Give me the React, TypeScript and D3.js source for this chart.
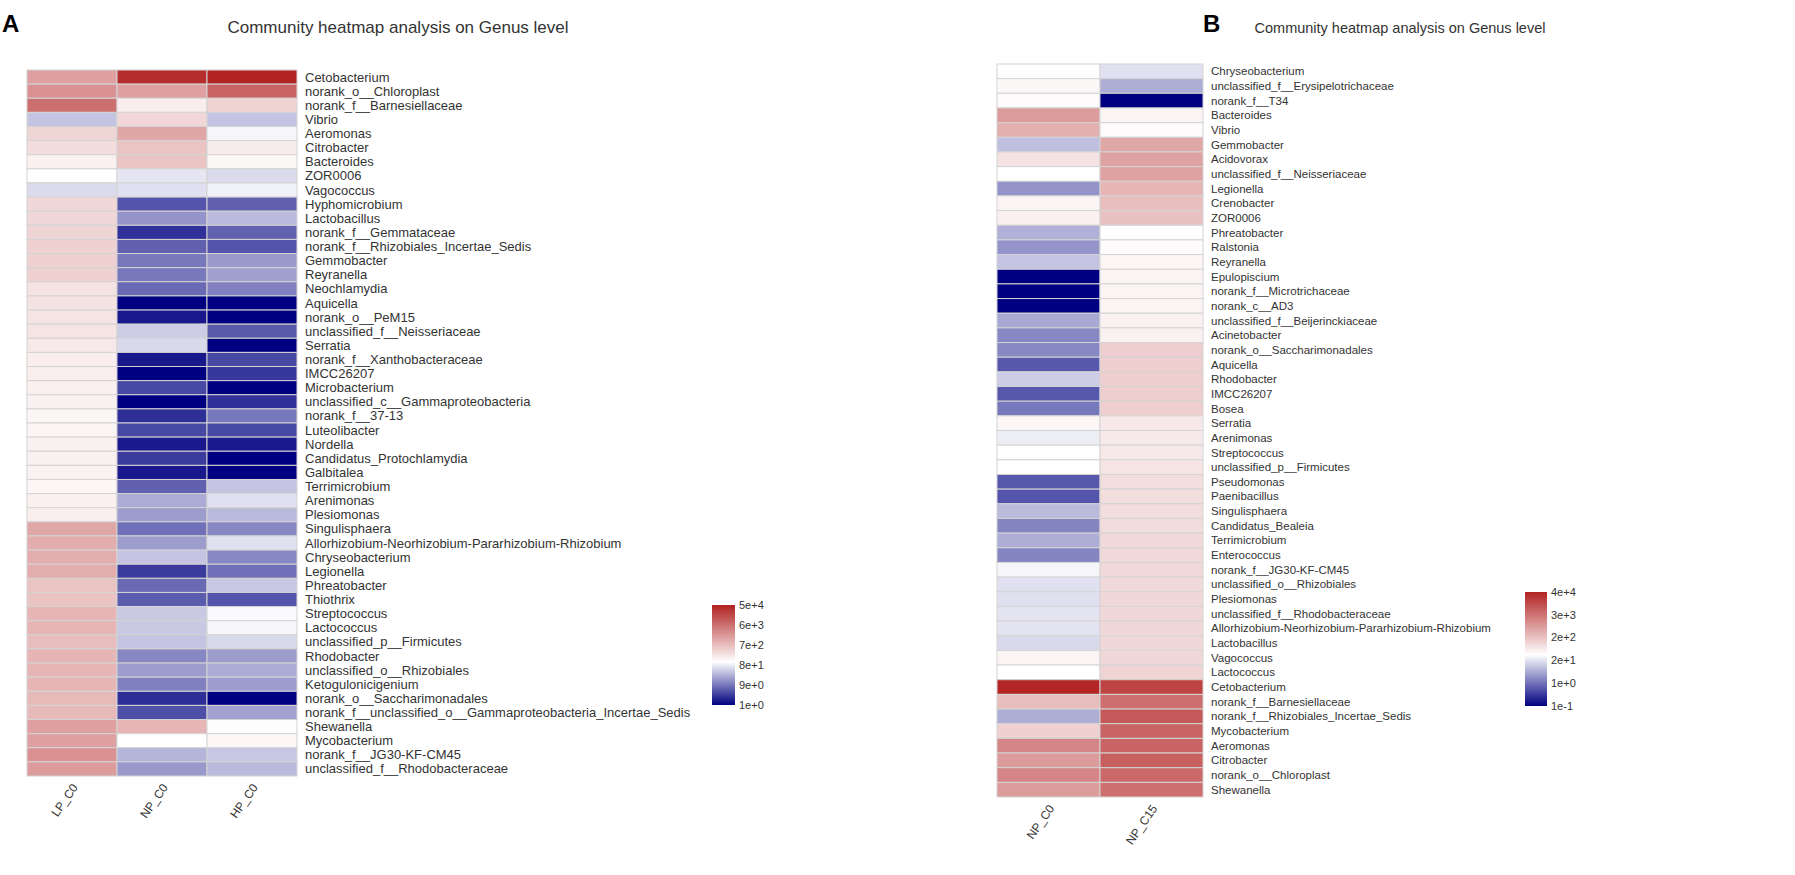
import React from 'react';
import * as d3 from 'd3';

// Panel A: genus names (top to bottom) and colour-scaled abundance per sample
const genusA = [
  'Cetobacterium', 'norank_o__Chloroplast', 'norank_f__Barnesiellaceae', 'Vibrio', 'Aeromonas',
  'Citrobacter', 'Bacteroides', 'ZOR0006', 'Vagococcus', 'Hyphomicrobium',
  'Lactobacillus', 'norank_f__Gemmataceae', 'norank_f__Rhizobiales_Incertae_Sedis', 'Gemmobacter', 'Reyranella',
  'Neochlamydia', 'Aquicella', 'norank_o__PeM15', 'unclassified_f__Neisseriaceae', 'Serratia',
  'norank_f__Xanthobacteraceae', 'IMCC26207', 'Microbacterium', 'unclassified_c__Gammaproteobacteria', 'norank_f__37-13',
  'Luteolibacter', 'Nordella', 'Candidatus_Protochlamydia', 'Galbitalea', 'Terrimicrobium',
  'Arenimonas', 'Plesiomonas', 'Singulisphaera', 'Allorhizobium-Neorhizobium-Pararhizobium-Rhizobium', 'Chryseobacterium',
  'Legionella', 'Phreatobacter', 'Thiothrix', 'Streptococcus', 'Lactococcus',
  'unclassified_p__Firmicutes', 'Rhodobacter', 'unclassified_o__Rhizobiales', 'Ketogulonicigenium', 'norank_o__Saccharimonadales',
  'norank_f__unclassified_o__Gammaproteobacteria_Incertae_Sedis', 'Shewanella', 'Mycobacterium', 'norank_f__JG30-KF-CM45', 'unclassified_f__Rhodobacteraceae',
];
const samplesA = ['LP_C0', 'NP_C0', 'HP_C0'];
// -1 = navy (low), 0 = white, 1 = firebrick (high)
const lpC0 = [
  0.43, 0.5, 0.65, -0.23, 0.19, 0.16, 0.07, 0, -0.14, 0.18,
  0.18, 0.19, 0.21, 0.21, 0.21, 0.13, 0.13, 0.12, 0.12, 0.1,
  0.08, 0.08, 0.07, 0.06, 0.04, 0.05, 0.06, 0.06, 0.06, 0.04,
  0.07, 0.08, 0.4, 0.37, 0.37, 0.37, 0.27, 0.27, 0.33, 0.33,
  0.3, 0.33, 0.33, 0.33, 0.31, 0.31, 0.43, 0.43, 0.5, 0.45,
];
const npC0A = [
  0.95, 0.43, 0.08, 0.18, 0.4, 0.27, 0.27, -0.1, -0.12, -0.67,
  -0.42, -0.81, -0.62, -0.53, -0.53, -0.59, -1, -0.9, -0.2, -0.15,
  -0.9, -1, -0.72, -1, -0.82, -0.72, -0.9, -0.77, -0.9, -0.62,
  -0.33, -0.39, -0.56, -0.39, -0.23, -0.77, -0.59, -0.64, -0.21, -0.21,
  -0.23, -0.47, -0.39, -0.5, -0.82, -0.69, 0.33, 0, -0.29, -0.4,
];
const hpC0 = [
  1, 0.7, 0.2, -0.23, -0.04, 0.09, 0.03, -0.14, -0.06, -0.62,
  -0.27, -0.62, -0.67, -0.4, -0.37, -0.5, -1, -1, -0.65, -1,
  -0.72, -0.78, -1, -0.81, -0.53, -0.72, -0.9, -1, -1, -0.23,
  -0.12, -0.27, -0.47, -0.12, -0.47, -0.56, -0.22, -0.67, -0.02, -0.03,
  -0.15, -0.39, -0.33, -0.39, -1, -0.37, 0.01, 0.04, -0.22, -0.27,
];
const legendTicksA = ['5e+4', '6e+3', '7e+2', '8e+1', '9e+0', '1e+0'];

// Panel B
const genusB = [
  'Chryseobacterium', 'unclassified_f__Erysipelotrichaceae', 'norank_f__T34', 'Bacteroides', 'Vibrio',
  'Gemmobacter', 'Acidovorax', 'unclassified_f__Neisseriaceae', 'Legionella', 'Crenobacter',
  'ZOR0006', 'Phreatobacter', 'Ralstonia', 'Reyranella', 'Epulopiscium',
  'norank_f__Microtrichaceae', 'norank_c__AD3', 'unclassified_f__Beijerinckiaceae', 'Acinetobacter', 'norank_o__Saccharimonadales',
  'Aquicella', 'Rhodobacter', 'IMCC26207', 'Bosea', 'Serratia',
  'Arenimonas', 'Streptococcus', 'unclassified_p__Firmicutes', 'Pseudomonas', 'Paenibacillus',
  'Singulisphaera', 'Candidatus_Bealeia', 'Terrimicrobium', 'Enterococcus', 'norank_f__JG30-KF-CM45',
  'unclassified_o__Rhizobiales', 'Plesiomonas', 'unclassified_f__Rhodobacteraceae', 'Allorhizobium-Neorhizobium-Pararhizobium-Rhizobium', 'Lactobacillus',
  'Vagococcus', 'Lactococcus', 'Cetobacterium', 'norank_f__Barnesiellaceae', 'norank_f__Rhizobiales_Incertae_Sedis',
  'Mycobacterium', 'Aeromonas', 'Citrobacter', 'norank_o__Chloroplast', 'Shewanella',
];
const samplesB = ['NP_C0', 'NP_C15'];
const npC0B = [
  0, 0.03, 0.02, 0.45, 0.36, -0.25, 0.13, 0, -0.42, 0.05,
  0.07, -0.31, -0.42, -0.23, -1, -1, -1, -0.34, -0.47, -0.47,
  -0.66, -0.2, -0.66, -0.53, 0.04, -0.07, 0, 0, -0.66, -0.67,
  -0.27, -0.48, -0.32, -0.48, -0.04, -0.12, -0.12, -0.11, -0.11, -0.15,
  0.05, 0, 0.98, 0.3, -0.32, 0.21, 0.55, 0.45, 0.55, 0.45,
];
const npC15 = [
  -0.12, -0.32, -1, 0.05, 0.02, 0.4, 0.42, 0.42, 0.33, 0.3,
  0.28, 0, 0.02, 0.04, 0.05, 0.05, 0.05, 0.06, 0.06, 0.22,
  0.22, 0.22, 0.22, 0.22, 0.1, 0.1, 0.1, 0.12, 0.15, 0.15,
  0.16, 0.16, 0.17, 0.17, 0.17, 0.17, 0.18, 0.18, 0.18, 0.18,
  0.18, 0.2, 0.85, 0.65, 0.75, 0.7, 0.7, 0.72, 0.68, 0.65,
];
const legendTicksB = ['4e+4', '3e+3', '2e+2', '2e+1', '1e+0', '1e-1'];

const FONT = '"Liberation Sans", Arial, Helvetica, sans-serif';
const TEXT = '#333333';

const color = d3.scaleLinear<string>()
  .domain([-1, 0, 1])
  .range(['#000080', '#ffffff', '#b22222'])
  .interpolate(d3.interpolateRgb);

type HeatProps = {
  x0: number; x1: number; y0: number; y1: number;
  rows: string[]; cols: string[]; series: number[][];
  labelSize: number; xLabelSize: number;
};

const Heat: React.FC<HeatProps> = ({ x0, x1, y0, y1, rows, cols, series, labelSize, xLabelSize }) => {
  const x = d3.scaleBand().domain(cols).range([x0, x1]);
  const y = d3.scaleBand().domain(rows).range([y0, y1]);
  return (
    <g>
      {cols.map((c, ci) => rows.map((r, ri) => (
        <rect key={c + r} x={x(c)} y={y(r)} width={x.bandwidth()} height={y.bandwidth()}
          fill={color(series[ci][ri])} stroke="#d4d4d4" strokeWidth={1} />
      )))}
      {rows.map(r => (
        <text key={r} x={x1 + 8} y={(y(r) as number) + y.bandwidth() / 2} dy="0.35em"
          fontSize={labelSize} fill={TEXT} fontFamily={FONT}>{r}</text>
      ))}
      {cols.map(c => {
        const cx = (x(c) as number) + x.bandwidth() / 2 + 3;
        const cy = y1 + 9;
        return (
          <text key={c} transform={`translate(${cx},${cy}) rotate(-55)`} textAnchor="end" dy="0.35em"
            fontSize={xLabelSize} fill={TEXT} fontFamily={FONT}>{c}</text>
        );
      })}
    </g>
  );
};

type LegendProps = { id: string; x: number; y: number; w: number; h: number; ticks: string[]; mid: number };

const Legend: React.FC<LegendProps> = ({ id, x, y, w, h, ticks, mid }) => {
  const ty = d3.scalePoint().domain(ticks).range([y, y + h]);
  return (
    <g>
      <defs>
        <linearGradient id={id} x1="0" y1="0" x2="0" y2="1">
          <stop offset="0" stopColor="#b22222" />
          <stop offset={mid} stopColor="#ffffff" />
          <stop offset="1" stopColor="#000080" />
        </linearGradient>
      </defs>
      <rect x={x} y={y} width={w} height={h} fill={`url(#${id})`} />
      {ticks.map(t => (
        <text key={t} x={x + w + 4} y={ty(t)} dy="0.35em" fontSize={11} fill={TEXT} fontFamily={FONT}>{t}</text>
      ))}
    </g>
  );
};

export default function App() {
  return (
    <svg width={1795} height={875} style={{ position: 'absolute', left: 0, top: 0, background: '#fff' }}>
      <rect width={1795} height={875} fill="#fff" />
      {/* Panel A */}
      <text x={2} y={32} fontSize={24} fontWeight="bold" fontFamily={FONT} fill="#000">A</text>
      <text x={398} y={33} textAnchor="middle" fontSize={17} fontFamily={FONT} fill={TEXT}>
        Community heatmap analysis on Genus level
      </text>
      <Heat x0={27} x1={297} y0={70} y1={776} rows={genusA} cols={samplesA}
        series={[lpC0, npC0A, hpC0]} labelSize={13} xLabelSize={12} />
      <Legend id="gradA" x={712} y={605} w={23} h={100} ticks={legendTicksA} mid={0.57} />

      {/* Panel B */}
      <text x={1203} y={32} fontSize={24} fontWeight="bold" fontFamily={FONT} fill="#000">B</text>
      <text x={1400} y={33} textAnchor="middle" fontSize={14.5} fontFamily={FONT} fill={TEXT}>
        Community heatmap analysis on Genus level
      </text>
      <Heat x0={997} x1={1203} y0={64} y1={797} rows={genusB} cols={samplesB}
        series={[npC0B, npC15]} labelSize={11.5} xLabelSize={12} />
      <Legend id="gradB" x={1525} y={592} w={22} h={114} ticks={legendTicksB} mid={0.55} />
    </svg>
  );
}
